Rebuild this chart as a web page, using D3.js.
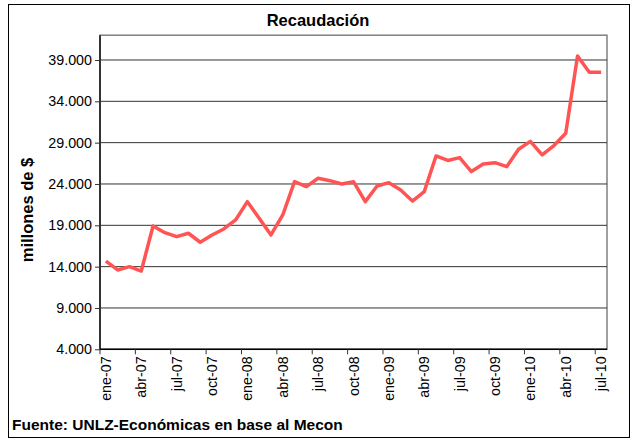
<!DOCTYPE html>
<html><head><meta charset="utf-8">
<script src="https://cdn.jsdelivr.net/npm/d3@7"></script>
<style>body{margin:0;background:#fff;}svg{display:block;font-family:"Liberation Sans",Arial,sans-serif;}</style>
</head><body><svg id="c" width="637" height="443"></svg>
<script>
const months = ["ene-07","feb-07","mar-07","abr-07","may-07","jun-07","jul-07","ago-07","sep-07","oct-07","nov-07","dic-07",
"ene-08","feb-08","mar-08","abr-08","may-08","jun-08","jul-08","ago-08","sep-08","oct-08","nov-08","dic-08",
"ene-09","feb-09","mar-09","abr-09","may-09","jun-09","jul-09","ago-09","sep-09","oct-09","nov-09","dic-09",
"ene-10","feb-10","mar-10","abr-10","may-10","jun-10","jul-10"];
const recaudacion = [14680,13600,14000,13470,18920,18110,17630,18040,16950,17830,18560,19650,
21860,19850,17830,20250,24280,23680,24690,24400,24000,24280,21860,23760,
24160,23280,21940,23070,27390,26850,27190,25500,26420,26580,26100,28200,
29150,27510,28650,30140,39490,37520,37520];
const yTicks = [4000,9000,14000,19000,24000,29000,34000,39000];
const title = "Recaudación";
const yTitle = "millones de $";
const source = "Fuente: UNLZ-Económicas en base al Mecon";

const svg = d3.select("#c");
const L = 100, R = 607, T = 35.2, B = 349.3;
const x = d3.scaleBand().domain(months).range([L, R]).padding(0);
const y = d3.scaleLinear().domain([4000, 42000]).range([B, T]);
const fmt = d3.formatLocale({decimal: ",", thousands: ".", grouping: [3], currency: ["$",""]}).format(",d");

// outer border
svg.append("rect").attr("x",8.5).attr("y",4.5).attr("width",621).attr("height",433)
  .attr("fill","#fff").attr("stroke","#000").attr("stroke-width",1);

// title
svg.append("text").attr("x",318).attr("y",26).attr("text-anchor","middle")
  .attr("font-size",16.5).attr("font-weight","bold").text(title);

// plot border (top/right)
svg.append("rect").attr("x",L).attr("y",T).attr("width",R-L).attr("height",B-T)
  .attr("fill","none").attr("stroke","#808080").attr("stroke-width",1.5);

// gridlines
svg.append("g").selectAll("line").data(yTicks.slice(1)).join("line")
  .attr("x1",L).attr("x2",R).attr("y1",d=>y(d)).attr("y2",d=>y(d))
  .attr("stroke","#333").attr("stroke-width",1);

// y axis
const ya = svg.append("g").attr("transform",`translate(${L},0)`)
  .call(d3.axisLeft(y).tickValues(yTicks).tickFormat(fmt).tickSize(5).tickPadding(3));
ya.select(".domain").attr("stroke","#333").attr("stroke-width",2).attr("d",`M0,${T}V${B}`);
ya.selectAll(".tick line").attr("stroke","#333");
ya.selectAll("text").attr("font-size",14.3).attr("fill","#000").attr("font-family","Liberation Sans, Arial, sans-serif");

// x axis
const xTickIdx = d3.range(0, months.length, 3);
const xa = svg.append("g").attr("transform",`translate(0,${B})`);
xa.append("line").attr("x1",L).attr("x2",R).attr("y1",0).attr("y2",0).attr("stroke","#000").attr("stroke-width",1.5);
xa.selectAll("line.tk").data(xTickIdx).join("line").attr("class","tk")
  .attr("x1",i=>x(months[i])).attr("x2",i=>x(months[i])).attr("y1",0).attr("y2",5)
  .attr("stroke","#333");
xa.selectAll("text").data(xTickIdx).join("text")
  .attr("transform",i=>`translate(${x(months[i])+x.bandwidth()/2+5},7) rotate(-90)`)
  .attr("text-anchor","end").attr("font-size",14.3).text(i=>months[i]);

// y title
svg.append("text").attr("transform","translate(33,210) rotate(-90)").attr("text-anchor","middle")
  .attr("font-size",16.5).attr("font-weight","bold").text(yTitle);

// line
const line = d3.line().x((d,i)=>x(months[i])+x.bandwidth()/2).y(d=>y(d));
svg.append("path").datum(recaudacion).attr("d",line).attr("fill","none")
  .attr("stroke","#FF5454").attr("stroke-width",3.5).attr("stroke-linejoin","round");

// source
svg.append("text").attr("x",12).attr("y",430).attr("font-size",15.5).attr("font-weight","bold").text(source);
</script></body></html>
